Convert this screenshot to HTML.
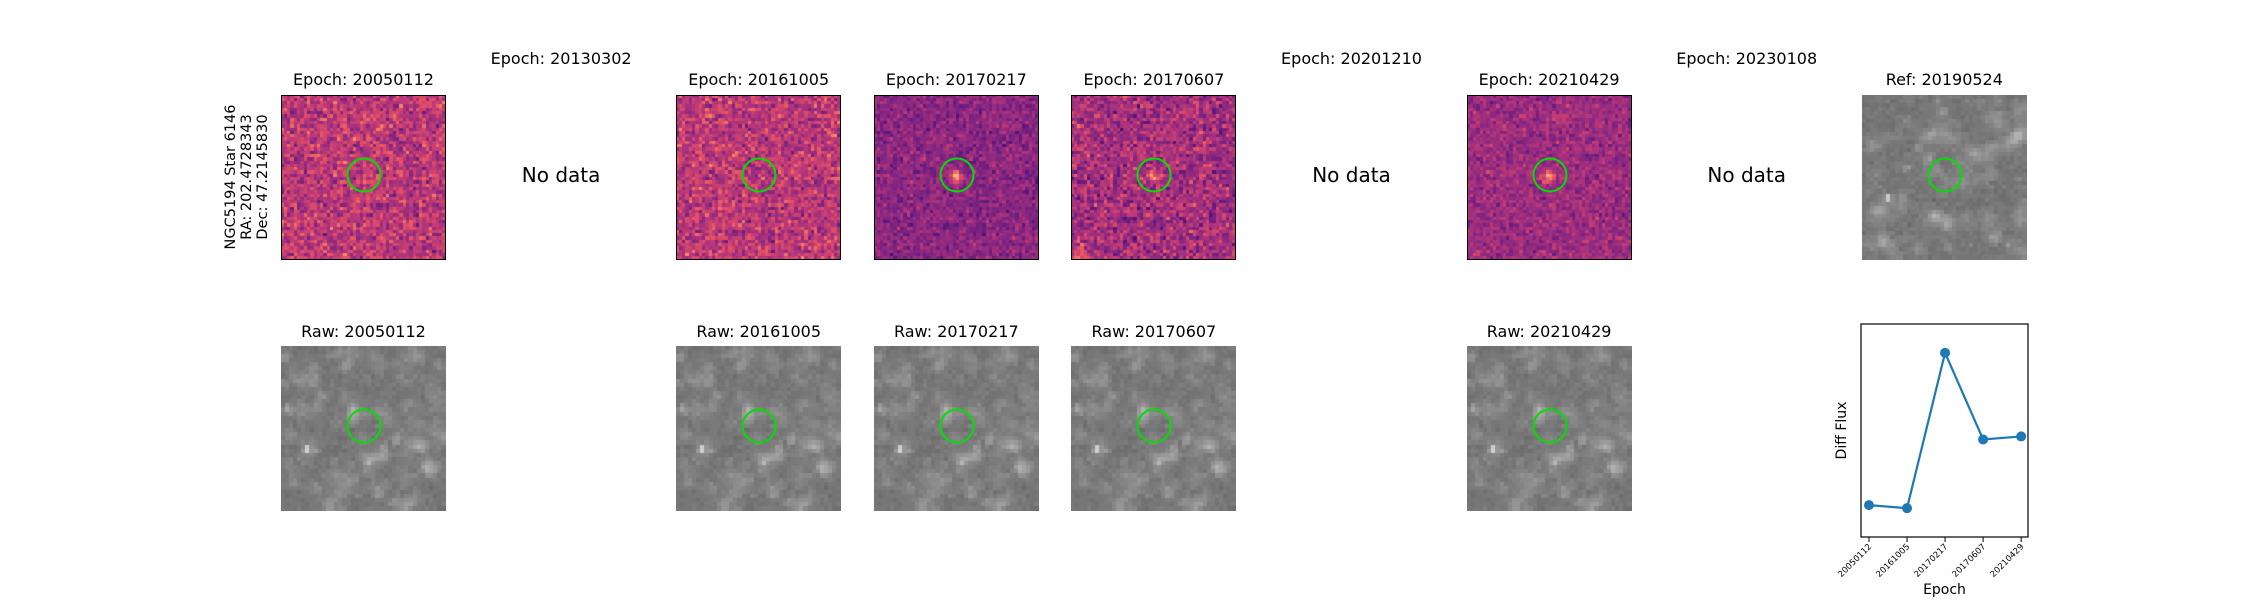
<!DOCTYPE html>
<html><head><meta charset="utf-8">
<style>
html,body{margin:0;padding:0;background:#fff;}
#root{position:relative;width:2250px;height:600px;overflow:hidden;font-family:"DejaVu Sans","Liberation Sans",sans-serif;}
.t{position:absolute;font-size:16px;color:#000;white-space:nowrap;transform:translateX(-50%);}
.nd{position:absolute;font-size:20px;white-space:nowrap;transform:translate(-50%,-50%);}
canvas{position:absolute;}
.box{position:absolute;border:1.3px solid #000;box-sizing:border-box;pointer-events:none;}
</style></head><body>
<div id="root">
<div style="position:absolute;left:247px;top:177px;transform:translate(-50%,-50%) rotate(-90deg);font-size:14.5px;line-height:16px;text-align:center;white-space:nowrap;">NGC5194 Star 6146<br>RA: 202.4728343<br>Dec: 47.2145830</div>
<svg id="chart" width="2250" height="600" style="position:absolute;left:0;top:0"></svg>
</div>
<script>
const epochs=["20050112","20130302","20161005","20170217","20170607","20201210","20210429","20230108"];
const hasData=[1,0,1,1,1,0,1,0];
const starStrength=[0,0,0,1.0,0.6,0,0.8,0];
const baseLevel=[0.52,0,0.52,0.4,0.46,0,0.44,0];
const fluxEpochs=["20050112","20161005","20170217","20170607","20210429"];
const fluxValues=[0.049,0.03,1.0,0.459,0.478];
const yMin=-0.15,yMax=1.18;

const root=document.getElementById('root');
const X0=281,DX=197.6,S=165,TOP1=95,TOP2=346;
let seed=12345;function rnd(){seed=(seed*1103515245+12345)%2147483648;return seed/2147483648;}
function gauss(){return (rnd()+rnd()+rnd()+rnd()-2)*0.87;}
const mag=[[0,0,4],[28,16,68],[79,18,123],[129,37,129],[181,54,122],[229,80,100],[251,135,97],[254,194,135],[252,253,191]];
function magma(v){v=Math.max(0,Math.min(1,v));const p=v*(mag.length-1),i=Math.min(mag.length-2,Math.floor(p)),f=p-i;return mag[i].map((c,k)=>Math.round(c+(mag[i+1][k]-c)*f));}
function makeCanvas(x,y,name){const c=document.createElement('canvas');c.width=S;c.height=S;c.style.left=x+'px';c.style.top=y+'px';


root.appendChild(c);return c;}
function circle(x,y){const s=document.createElementNS('http://www.w3.org/2000/svg','svg');s.setAttribute('width',S);s.setAttribute('height',S);s.style.position='absolute';s.style.left=x+'px';s.style.top=y+'px';


s.innerHTML='<circle cx="83" cy="80" r="16.5" fill="none" stroke="#00e000" stroke-width="2"/>';root.appendChild(s);}
function title(x,y,txt,name){const d=document.createElement('div');d.className='t';d.style.left=x+'px';d.style.top=y+'px';d.textContent=txt;


root.appendChild(d);}
function drawDiff(c,k){const N=50,ctx=c.getContext('2d'),cs=S/N;const sd=(k===3||k===6)?0.11:0.17;
for(let i=0;i<N;i++)for(let j=0;j<N;j++){let v=baseLevel[k]+gauss()*sd;
const dx=j-24.5,dy=i-24.5;v+=starStrength[k]*0.5*Math.exp(-(dx*dx+dy*dy)/2.5);
if(k===4&&i>44&&j<8)v+=0.25*Math.exp(-((i-48)**2+(j-2)**2)/6);
const col=magma(v);ctx.fillStyle=`rgb(${col})`;ctx.fillRect(Math.floor(j*cs),Math.floor(i*cs),Math.ceil(cs)+1,Math.ceil(cs)+1);}}
function drawRaw(c,sd){const N=40,ctx=c.getContext('2d'),cs=S/N;seed=sd;
const blobs=[];for(let b=0;b<160;b++)blobs.push([rnd()*N,rnd()*N,rnd()*28,0.6+rnd()*0.9]);
blobs.push([6,24.5,110,0.6]);
for(let i=0;i<N;i++)for(let j=0;j<N;j++){let v=118+gauss()*9;
for(const b of blobs){v+=b[2]*Math.exp(-((j-b[0])**2+(i-b[1])**2)/(2*b[3]*b[3]));}
v=Math.max(60,Math.min(255,v));ctx.fillStyle=`rgb(${v|0},${v|0},${v|0})`;ctx.fillRect(Math.floor(j*cs),Math.floor(i*cs),Math.ceil(cs)+1,Math.ceil(cs)+1);}}
epochs.forEach((e,k)=>{const x=X0+k*DX;const cx=x+S/2;
if(hasData[k]){title(cx,70,'Epoch: '+e,'diff-title-'+e);
const c=makeCanvas(x,TOP1,'diff-image-'+e);seed=1000+k*77;drawDiff(c,k);
const b=document.createElement('div');b.className='box';b.style.left=x+'px';b.style.top=TOP1+'px';b.style.width=S+'px';b.style.height=S+'px';root.appendChild(b);
circle(x,TOP1);
title(cx,322,'Raw: '+e,'raw-title-'+e);
const r=makeCanvas(x,TOP2,'raw-image-'+e);drawRaw(r,555);circle(x,TOP2);}
else{title(cx,49,'Epoch: '+e,'diff-title-'+e);
const d=document.createElement('div');d.className='nd';d.style.left=cx+'px';d.style.top='175px';d.textContent='No data';


root.appendChild(d);}});
{const x=X0+8*DX;title(x+S/2,70,'Ref: 20190524','ref-title');const r=makeCanvas(x,TOP1,'ref-image');drawRaw(r,777);circle(x,TOP1);}

// chart
const svg=document.getElementById('chart');const NS='http://www.w3.org/2000/svg';
const L=1861,R=2028,T=324,B=537;
const xs=i=>L+(i+0.21)/(4.39)*(R-L);
const ys=v=>B-(v-yMin)/(yMax-yMin)*(B-T);
function el(tag,attrs,name){const e=document.createElementNS(NS,tag);for(const k in attrs)e.setAttribute(k,attrs[k]);


svg.appendChild(e);return e;}
el('rect',{x:L,y:T,width:R-L,height:B-T,fill:'none',stroke:'#000','stroke-width':1.2},'plot-frame');
el('polyline',{points:fluxValues.map((v,i)=>xs(i)+','+ys(v)).join(' '),fill:'none',stroke:'#1f77b4','stroke-width':2.2},'flux-line');
fluxValues.forEach((v,i)=>{el('circle',{cx:xs(i),cy:ys(v),r:5,fill:'#1f77b4'},'flux-point-'+fluxEpochs[i]);});
fluxEpochs.forEach((e,i)=>{const x=xs(i);el('line',{x1:x,y1:B,x2:x,y2:B+5,stroke:'#000','stroke-width':1},'x-tick');
const t=el('text',{x:x+3,y:B+10,'font-size':'8.5',fill:'#000','text-anchor':'end','font-family':'DejaVu Sans, Liberation Sans, sans-serif',transform:`rotate(-45 ${x+3} ${B+10})`},'x-tick-label');t.textContent=e;});
const xl=el('text',{x:(L+R)/2,y:594,'font-size':'14','text-anchor':'middle','font-family':'DejaVu Sans, Liberation Sans, sans-serif'},'x-axis-title');xl.textContent='Epoch';
const yl=el('text',{x:1846,y:(T+B)/2,'font-size':'14','text-anchor':'middle','font-family':'DejaVu Sans, Liberation Sans, sans-serif',transform:`rotate(-90 1846 ${(T+B)/2})`},'y-axis-title');yl.textContent='Diff Flux';
</script>
</body></html>
